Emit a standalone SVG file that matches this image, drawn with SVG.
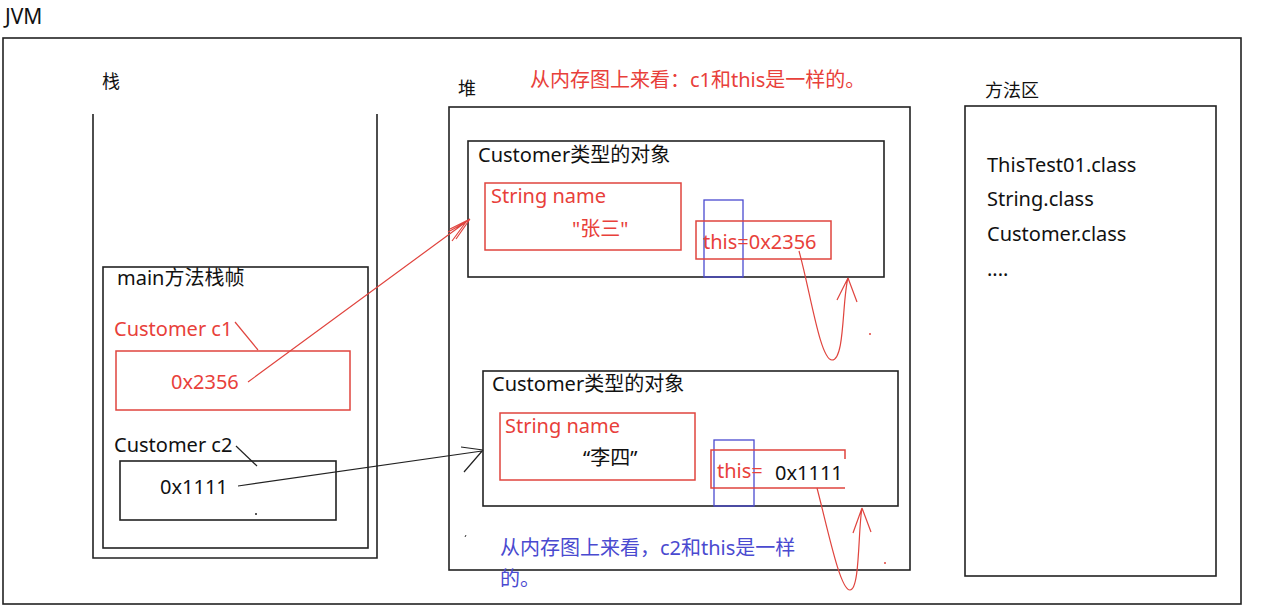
<svg xmlns="http://www.w3.org/2000/svg" width="1261" height="606" viewBox="0 0 1261 606">
<style>
text{font-family:"Noto Sans","Noto Sans CJK SC",sans-serif;font-size:20px;fill:#111}
.r{fill:#e8403a}
.b{fill:#4a4ad0}
.box{fill:none;stroke:#222;stroke-width:1.6}
.rbox{fill:none;stroke:#e0443e;stroke-width:1.5}
.bbox{fill:none;stroke:#4a4ad0;stroke-width:1.3}
.rl{fill:none;stroke:#e0443e;stroke-width:1.2}
.kl{fill:none;stroke:#222;stroke-width:1.2}
</style>
<rect width="1261" height="606" fill="#fff"/>
<text x="5" y="24" style="font-size:21px">JVM</text>
<rect id="jvm" class="box" x="3" y="38" width="1238" height="566"/>

<g id="stack">
<text x="102" y="88" style="font-size:18px">栈</text>
<path class="box" d="M93 114V558H377V114"/>
</g>

<g id="main-frame">
<rect class="box" x="103" y="267" width="265" height="281"/>
<text x="117" y="285">main方法栈帧</text>
</g>

<g id="c1">
<text class="r" x="114" y="336">Customer c1</text>
<path class="rl" d="M235 322L258 350"/>
<rect class="rbox" x="116" y="351" width="234" height="59"/>
<text class="r" x="171" y="389">0x2356</text>
</g>

<g id="c2">
<text x="114" y="452">Customer c2</text>
<path class="kl" d="M236 446L257 466"/>
<rect class="box" x="120" y="461" width="216" height="59"/>
<text x="160" y="494">0x1111</text>
<circle cx="256" cy="514" r="1" fill="#222"/>
</g>

<g id="heap">
<text x="458" y="95" style="font-size:18px">堆</text>
<rect class="box" x="449" y="107" width="461" height="463"/>
<text class="r" x="530" y="87">从内存图上来看：c1和this是一样的。</text>
</g>

<g id="obj1">
<rect class="box" x="468" y="141" width="416" height="136"/>
<text x="478" y="162">Customer类型的对象</text>
<rect class="rbox" x="485" y="183" width="196" height="67"/>
<text class="r" x="491" y="203">String name</text>
<text class="r" x="572" y="236">"张三"</text>
<rect class="bbox" x="704" y="200" width="39" height="77"/>
<rect class="rbox" x="696" y="221" width="135" height="38"/>
<text class="r" x="703" y="249">this=0x2356</text>
</g>

<g id="obj2">
<rect class="box" x="483" y="371" width="415" height="135"/>
<text x="492" y="391">Customer类型的对象</text>
<rect class="rbox" x="500" y="413" width="195" height="67"/>
<text class="r" x="505" y="433">String name</text>
<text x="583" y="465">“李四”</text>
<rect class="bbox" x="714" y="440" width="40" height="66"/>
<path class="rbox" d="M845 459V450H711V488H845"/>
<text class="r" x="717" y="478">this=</text>
<text x="775" y="480">0x1111</text>
</g>

<g id="note2">
<text class="b" x="500" y="555">从内存图上来看，c2和this是一样</text>
<text class="b" x="500" y="586">的。</text>
<path d="M465 537l1 -2" stroke="#333" stroke-width="1"/>
</g>

<g id="method-area">
<text x="985" y="97" style="font-size:18px">方法区</text>
<rect class="box" x="965" y="106" width="251" height="470"/>
<text x="987" y="172">ThisTest01.class</text>
<text x="987" y="206">String.class</text>
<text x="987" y="241">Customer.class</text>
<text x="987" y="276">....</text>
</g>

<g id="connectors">
<path class="rl" d="M248 382L470 219M470 219L450 229M470 219L456 239M466 222L448 232M466 222L452 241"/>
<path class="kl" d="M238 486L482 451M483 450L461 447M483 450L464 472"/>
<path class="rl" d="M799 251C810 290 820 360 832 360C845 360 842 300 848 278M848 278L837 300M848 278L857 302"/>
<circle cx="870" cy="334" r="1" fill="#e0443e"/>
<path class="rl" d="M817 488C828 530 840 590 850 590C860 590 858 530 862 508M862 508L853 533M862 508L871 532"/>
<circle cx="885" cy="563" r="1" fill="#e0443e"/>
</g>
</svg>
